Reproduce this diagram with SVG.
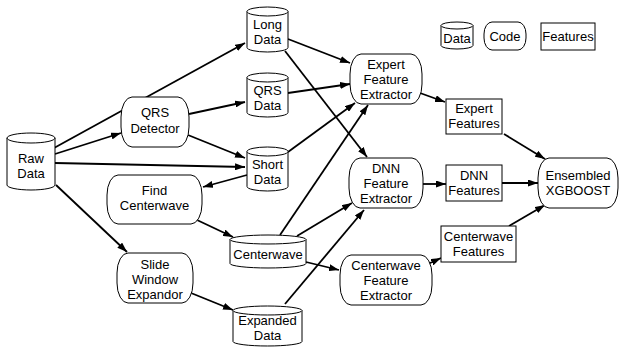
<svg xmlns="http://www.w3.org/2000/svg" width="621" height="347" viewBox="0 0 621 347">
<defs>
<style>
.n{fill:#fff;stroke:#000;stroke-width:1}
.e{fill:none;stroke:#000;stroke-width:1.8;marker-end:url(#ah)}
text{font-family:"Liberation Sans",Arial,Helvetica,sans-serif;font-size:13px;fill:#000;text-anchor:middle}
</style>
<marker id="ah" markerUnits="userSpaceOnUse" markerWidth="10" markerHeight="7" refX="10" refY="3.5" orient="auto">
<path d="M0,0 L10,3.5 L0,7 z" fill="#000"/>
</marker>
</defs>
<rect width="621" height="347" fill="#fff"/>
<g id="connectors">
<line class="e" x1="54" y1="148" x2="245" y2="43"/>
<line class="e" x1="55" y1="154" x2="121" y2="133"/>
<line class="e" x1="55" y1="163" x2="245" y2="167"/>
<line class="e" x1="56" y1="185" x2="127" y2="252"/>
<line class="e" x1="189" y1="114" x2="245" y2="102"/>
<line class="e" x1="188" y1="135" x2="245" y2="158"/>
<line class="e" x1="247" y1="175" x2="203" y2="187"/>
<line class="e" x1="197" y1="220" x2="233" y2="237"/>
<line class="e" x1="191" y1="293" x2="233" y2="310"/>
<line class="e" x1="288" y1="39" x2="350" y2="63"/>
<line class="e" x1="285" y1="51" x2="367" y2="157"/>
<line class="e" x1="288" y1="93" x2="350" y2="84"/>
<line class="e" x1="288" y1="152" x2="355" y2="103"/>
<line class="e" x1="280" y1="235" x2="368" y2="105"/>
<line class="e" x1="297" y1="236" x2="352" y2="203"/>
<line class="e" x1="285" y1="304" x2="364" y2="210"/>
<line class="e" x1="306" y1="262" x2="339" y2="270"/>
<line class="e" x1="420" y1="93" x2="445" y2="102"/>
<line class="e" x1="504" y1="134" x2="545" y2="159"/>
<line class="e" x1="423" y1="184" x2="446" y2="184"/>
<line class="e" x1="502" y1="183" x2="538" y2="183"/>
<line class="e" x1="428" y1="264" x2="441" y2="258"/>
<line class="e" x1="509" y1="226" x2="545" y2="205"/>
</g>
<g id="raw">
<path class="n" d="M7,138 A24,5 0 0 1 55,138 V185 A24,5 0 0 1 7,185 Z"/>
<path class="n" d="M7,138 A24,5 0 0 0 55,138"/>
<text x="31" y="163">Raw</text><text x="31" y="178">Data</text>
</g>
<g id="long">
<path class="n" d="M247,11.5 A20.5,4.5 0 0 1 288,11.5 V47.5 A20.5,4.5 0 0 1 247,47.5 Z"/>
<path class="n" d="M247,11.5 A20.5,4.5 0 0 0 288,11.5"/>
<text x="267.5" y="29">Long</text><text x="267.5" y="44">Data</text>
</g>
<g id="qrsdata">
<path class="n" d="M247,77.5 A20.5,4.5 0 0 1 288,77.5 V112.5 A20.5,4.5 0 0 1 247,112.5 Z"/>
<path class="n" d="M247,77.5 A20.5,4.5 0 0 0 288,77.5"/>
<text x="267.5" y="95">QRS</text><text x="267.5" y="110">Data</text>
</g>
<g id="short">
<path class="n" d="M247,151.5 A20.5,4.5 0 0 1 288,151.5 V186.5 A20.5,4.5 0 0 1 247,186.5 Z"/>
<path class="n" d="M247,151.5 A20.5,4.5 0 0 0 288,151.5"/>
<text x="267.5" y="169">Short</text><text x="267.5" y="184">Data</text>
</g>
<g id="centerwave">
<path class="n" d="M230,239.5 A38,4.5 0 0 1 306,239.5 V263.5 A38,4.5 0 0 1 230,263.5 Z"/>
<path class="n" d="M230,239.5 A38,4.5 0 0 0 306,239.5"/>
<text x="268" y="259">Centerwave</text>
</g>
<g id="expanded">
<path class="n" d="M233,310.5 A34.5,4.5 0 0 1 302,310.5 V341.5 A34.5,4.5 0 0 1 233,341.5 Z"/>
<path class="n" d="M233,310.5 A34.5,4.5 0 0 0 302,310.5"/>
<text x="267.5" y="325">Expanded</text><text x="267.5" y="340">Data</text>
</g>
<g id="qrsdetector">
<rect class="n" x="121" y="97" width="68" height="50" rx="11" ry="20"/>
<text x="155" y="117">QRS</text><text x="155" y="133">Detector</text>
</g>
<g id="findcenterwave">
<rect class="n" x="107" y="175" width="95" height="49" rx="11" ry="20"/>
<text x="154.5" y="195">Find</text><text x="154.5" y="210">Centerwave</text>
</g>
<g id="slidewindow">
<rect class="n" x="117" y="253" width="76" height="50" rx="11" ry="20"/>
<text x="155" y="268.5">Slide</text><text x="155" y="283.5">Window</text><text x="155" y="298.5">Expandor</text>
</g>
<g id="expertfe">
<rect class="n" x="350" y="54" width="72" height="50" rx="11" ry="20"/>
<text x="386" y="68.5">Expert</text><text x="386" y="83.5">Feature</text><text x="386" y="98.5">Extractor</text>
</g>
<g id="dnnfe">
<rect class="n" x="349" y="158" width="74" height="50" rx="11" ry="20"/>
<text x="386" y="172.5">DNN</text><text x="386" y="187.5">Feature</text><text x="386" y="202.5">Extractor</text>
</g>
<g id="cwfe">
<rect class="n" x="340" y="255" width="92" height="50" rx="11" ry="20"/>
<text x="386" y="269.5">Centerwave</text><text x="386" y="284.5">Feature</text><text x="386" y="299.5">Extractor</text>
</g>
<g id="ensembled">
<rect class="n" x="538" y="158" width="80" height="50" rx="11" ry="20"/>
<text x="578" y="180">Ensembled</text><text x="578" y="195">XGBOOST</text>
</g>
<g id="expertfeatures">
<rect class="n" x="446" y="99" width="56" height="35"/>
<text x="474" y="113">Expert</text><text x="474" y="128">Features</text>
</g>
<g id="dnnfeatures">
<rect class="n" x="446" y="165" width="56" height="36"/>
<text x="474" y="180">DNN</text><text x="474" y="195">Features</text>
</g>
<g id="cwfeatures">
<rect class="n" x="441" y="226" width="75" height="36"/>
<text x="478.5" y="241">Centerwave</text><text x="478.5" y="256">Features</text>
</g>
<g id="legend-data">
<path class="n" d="M441,25.5 A16,3.5 0 0 1 473,25.5 V45.5 A16,3.5 0 0 1 441,45.5 Z"/>
<path class="n" d="M441,25.5 A16,3.5 0 0 0 473,25.5"/>
<text x="457" y="43">Data</text>
</g>
<g id="legend-code">
<rect class="n" x="484" y="22" width="42" height="28" rx="8" ry="12"/>
<text x="505" y="41">Code</text>
</g>
<g id="legend-features">
<rect class="n" x="541" y="23" width="54" height="27"/>
<text x="568" y="41">Features</text>
</g>
</svg>
